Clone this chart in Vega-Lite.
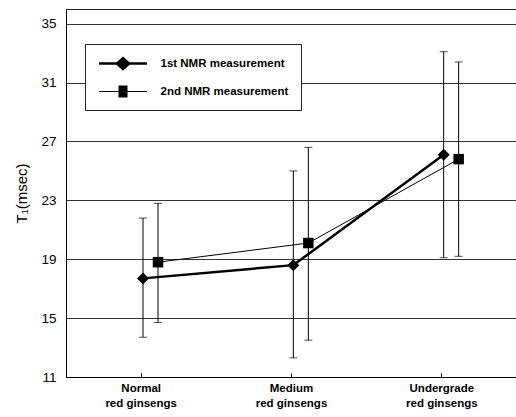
{
  "$schema": "https://vega.github.io/schema/vega-lite/v6.json",
  "width": 451,
  "height": 368,
  "autosize": {"type": "none"},
  "padding": {"left": 66, "top": 9, "right": 0, "bottom": 40},
  "background": "white",
  "config": {
    "font": "Liberation Sans",
    "view": {"stroke": "#222", "strokeWidth": 1}
  },
  "data": {
    "values": [
      {"cat": "Normal", "series": "1st NMR measurement", "mean": 17.7, "lo": 13.7, "hi": 21.8},
      {"cat": "Normal", "series": "2nd NMR measurement", "mean": 18.8, "lo": 14.7, "hi": 22.8},
      {"cat": "Medium", "series": "1st NMR measurement", "mean": 18.6, "lo": 12.3, "hi": 25.0},
      {"cat": "Medium", "series": "2nd NMR measurement", "mean": 20.1, "lo": 13.5, "hi": 26.6},
      {"cat": "Undergrade", "series": "1st NMR measurement", "mean": 26.1, "lo": 19.1, "hi": 33.1},
      {"cat": "Undergrade", "series": "2nd NMR measurement", "mean": 25.8, "lo": 19.2, "hi": 32.4}
    ]
  },
  "encoding": {
    "x": {
      "field": "cat", "type": "nominal", "sort": ["Normal", "Medium", "Undergrade"],
      "scale": {"type": "band", "paddingInner": 0, "paddingOuter": 0},
      "axis": {
        "title": null, "labelAngle": 0,
        "labelExpr": "[datum.label, 'red ginsengs']",
        "labelFontSize": 11.5, "labelFontWeight": "bold", "labelColor": "black",
        "labelLineHeight": 15, "labelPadding": 9, "labelBaseline": "top",
        "tickSize": -4, "tickColor": "black", "domainColor": "black", "grid": false
      }
    },
    "xOffset": {
      "field": "series", "type": "nominal",
      "scale": {"range": [69.5, 99.5], "paddingInner": 0, "paddingOuter": 0}
    }
  },
  "layer": [
    {
      "mark": {"type": "rule", "color": "black", "strokeWidth": 1},
      "encoding": {
        "y": {
          "field": "lo", "type": "quantitative",
          "scale": {"domain": [11, 36], "nice": false, "zero": false},
          "axis": {
            "title": "T₁(msec)", "titleFontSize": 15, "titleFontWeight": "normal", "titleColor": "black",
            "titlePadding": 11, "values": [11, 15, 19, 23, 27, 31, 35],
            "labelFontSize": 13.5, "labelColor": "black", "labelPadding": 10, "ticks": false,
            "domainColor": "black", "grid": true, "gridColor": "#333", "gridWidth": 1
          }
        },
        "y2": {"field": "hi"}
      }
    },
    {
      "mark": {"type": "tick", "orient": "horizontal", "size": 8, "thickness": 1, "color": "black"},
      "encoding": {"y": {"field": "lo", "type": "quantitative"}}
    },
    {
      "mark": {"type": "tick", "orient": "horizontal", "size": 8, "thickness": 1, "color": "black"},
      "encoding": {"y": {"field": "hi", "type": "quantitative"}}
    },
    {
      "mark": {"type": "line", "color": "black"},
      "encoding": {
        "y": {"field": "mean", "type": "quantitative"},
        "strokeWidth": {"condition": {"test": "datum.series == '1st NMR measurement'", "value": 2.5}, "value": 1},
        "detail": {"field": "series"}
      }
    },
    {
      "mark": {"type": "point", "filled": true, "opacity": 1, "color": "black"},
      "encoding": {
        "y": {"field": "mean", "type": "quantitative"},
        "size": {"condition": {"test": "datum.series == '1st NMR measurement'", "value": 144}, "value": 110},
        "shape": {"condition": {"test": "datum.series == '1st NMR measurement'", "value": "diamond"}, "value": "square"}
      }
    },
    {
      "mark": {"type": "point", "filled": true, "opacity": 0, "color": "black", "size": 1},
      "encoding": {
        "y": {"field": "mean", "type": "quantitative"},
        "shape": {
          "field": "series", "type": "nominal",
          "scale": {"range": [
            "M-3.2,-0.17L3.2,-0.17L3.2,0.17L-3.2,0.17ZM0,-0.95L1.05,0L0,0.95L-1.05,0Z",
            "M-3.2,-0.07L3.2,-0.07L3.2,0.07L-3.2,0.07ZM-0.6,-0.8L0.6,-0.8L0.6,0.8L-0.6,0.8Z"
          ]},
          "legend": {
            "title": null, "orient": "none", "legendX": 19, "legendY": 35,
            "strokeColor": "#222", "fillColor": "white", "padding": 12,
            "symbolSize": 225, "symbolOpacity": 1, "symbolFillColor": "black",
            "symbolStrokeColor": "black", "symbolStrokeWidth": 0, "symbolOffset": 18.5,
            "rowPadding": 13, "labelOffset": 30,
            "labelExpr": "datum.label + '   '",
            "labelFontSize": 11.5, "labelFontWeight": "bold", "labelColor": "black"
          }
        }
      }
    }
  ]
}
